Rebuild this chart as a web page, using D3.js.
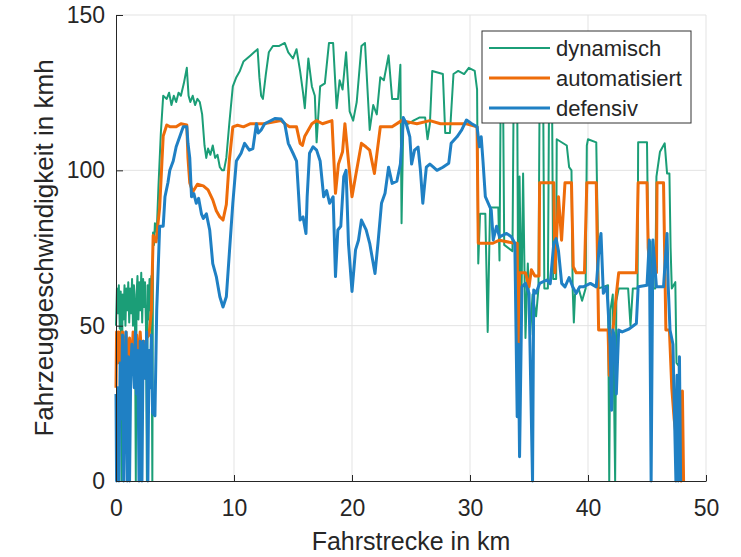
<!DOCTYPE html>
<html>
<head>
<meta charset="utf-8">
<script src="https://cdn.jsdelivr.net/npm/d3@7"></script>
<style>
  body { margin: 0; background: #fff; }
  text { font-family: "Liberation Sans", Arial, sans-serif; fill: #262626; }
</style>
</head>
<body>
<div id="chart"></div>
<script>
// chart size
var svgWidth = 741;
var svgHeight = 557;

var margin = { top: 15, right: 35, bottom: 76, left: 116 };
var w = svgWidth - margin.left - margin.right;
var h = svgHeight - margin.top - margin.bottom;

// tick labels
var xTicks = [0, 10, 20, 30, 40, 50];
var yTicks = [0, 50, 100, 150];

// series names + colors
var seriesNames = ["dynamisch", "automatisiert", "defensiv"];
var seriesColors = ["#1b9e77", "#ee6c0a", "#1f80c4"];
var seriesWidths = [2, 3, 3];

// [km, km/h]
var dynamisch = [[0,50],[0.08,62],[0.16,54],[0.24,63],[0.32,49],[0.4,61],[0.48,0],[0.55,60],[0.63,52],[0.72,63],[0.8,50],[0.88,62],[0.96,55],[1.04,64],[1.12,51],[1.2,62],[1.28,54],[1.36,65],[1.44,50],[1.52,63],[1.6,56],[1.68,0],[1.74,60],[1.82,66],[1.9,52],[1.98,64],[2.06,55],[2.14,67],[2.22,51],[2.3,65],[2.38,56],[2.46,64],[2.54,50],[2.62,0],[2.68,63],[2.76,52],[2.84,65],[2.92,55],[3.0,66],[3.08,0],[3.14,80],[3.22,76],[3.3,83],[3.45,80],[3.6,95],[3.8,112],[4.0,124],[4.3,123],[4.5,125],[4.7,121],[4.9,124],[5.1,122],[5.3,125],[5.5,124],[5.75,128],[6.0,133],[6.15,124],[6.3,122],[6.5,124],[6.7,121],[6.9,123],[7.1,122],[7.3,118],[7.5,108],[7.65,104],[7.8,107],[8.0,105],[8.2,108],[8.4,104],[8.6,105],[8.8,101],[9.0,100],[9.15,100],[9.35,104],[9.6,115],[9.9,127],[10.2,130],[10.5,132],[10.8,135],[11.1,136],[11.4,137],[11.7,138],[12.0,139],[12.15,130],[12.3,124],[12.45,123],[12.7,131],[12.95,138],[13.3,140],[13.8,140],[14.3,141],[14.6,138],[15.0,136],[15.3,139],[15.6,132],[15.85,125],[16.0,120],[16.3,136],[16.6,127],[16.85,124],[17.0,109],[17.3,127],[17.7,128],[18.05,141],[18.4,141],[18.7,120],[18.95,129],[19.2,126],[19.5,138],[19.8,119],[20.1,116],[20.4,122],[20.8,140],[21.1,141],[21.5,113],[21.8,121],[22.1,118],[22.4,130],[22.7,129],[23.1,137],[23.4,123],[23.9,123],[24.1,134],[24.2,83],[24.35,116],[24.8,115],[25.2,116],[25.7,117],[26.2,117],[26.4,110],[26.6,115],[26.8,132],[27.7,131],[27.9,112],[28.3,112],[28.6,131],[29.0,132],[29.5,131],[29.9,133],[30.4,132],[30.6,126],[30.7,70],[30.85,86],[31.3,86],[31.5,48],[31.7,88],[32.4,88],[32.5,71],[32.6,125],[32.8,125],[32.9,76],[33.6,74],[33.7,125],[34.0,125],[34.1,44],[34.2,98],[34.35,55],[34.5,99],[34.7,46],[34.9,70],[35.1,47],[35.3,60],[35.6,53],[35.8,62],[35.9,125],[36.2,125],[36.3,62],[36.6,62],[36.7,125],[36.95,125],[37.05,65],[37.3,65],[37.35,110],[38.2,108],[38.4,101],[38.6,100],[38.7,62],[38.8,51],[38.9,60],[39.2,62],[39.5,58],[39.8,62],[39.9,108],[40.0,110],[40.7,109],[40.8,87],[40.9,62],[41.7,63],[41.8,0],[41.9,55],[42.1,60],[42.3,0],[42.4,58],[42.6,62],[43.4,62],[43.6,50],[43.8,62],[44.2,62],[44.25,109],[45.0,109],[45.1,77],[45.3,77],[45.4,62],[45.7,62],[45.8,98],[46.1,106],[46.5,108.7],[46.7,99],[46.9,99],[47.0,75],[47.1,62],[47.4,64],[47.5,38],[47.7,37],[47.8,0]];

var automatisiert = [[0,30],[0.05,48],[0.15,38],[0.25,48],[0.35,40],[0.45,33],[0.55,48],[0.7,38],[0.85,48],[1.0,37],[1.15,46],[1.3,35],[1.45,48],[1.6,38],[1.75,47],[1.9,36],[2.05,48],[2.2,37],[2.35,45],[2.5,33],[2.6,46],[2.8,47],[3.0,55],[3.15,79],[3.4,77],[3.7,88],[4.0,111],[4.3,114.6],[4.6,114],[5.1,114],[5.5,115],[6.0,114.6],[6.1,104],[6.25,96],[6.5,93],[6.9,95.5],[7.4,95],[7.8,93.7],[8.2,90.5],[8.5,87],[8.8,85],[9.07,84],[9.35,89],[9.6,103],[9.9,114],[10.3,114.5],[10.8,114],[11.4,115],[11.9,115],[12.5,115],[13.2,115.5],[14.0,116],[14.3,115],[14.7,114],[15.3,114],[15.6,108.7],[15.8,108],[16.0,111],[16.3,113],[16.6,115],[17.0,116],[17.5,115],[18.3,116],[18.6,92.6],[18.85,102],[19.2,106],[19.4,115],[19.7,103],[20.0,91.5],[20.3,98],[20.8,108.7],[21.2,107.5],[21.5,106.5],[21.9,99],[22.4,114],[23.4,114],[24.2,116],[25.5,115],[26.6,116],[27.5,115],[28.6,115],[29.7,115],[30.6,114],[30.7,76.5],[31.9,76.5],[32.5,77.5],[33.8,76.5],[34.0,76.5],[34.1,35],[34.2,67],[34.7,67],[35.0,62.5],[35.2,68],[35.5,66],[35.85,66],[35.9,96],[36.8,96],[37.1,96],[37.2,67],[37.5,91.5],[37.76,77.5],[38.05,96],[38.6,96],[38.75,69],[39.0,67],[39.7,67],[39.9,96],[40.7,96],[40.9,48.6],[41.7,48.6],[41.8,34],[41.9,48],[42.1,48],[42.4,60],[42.6,67],[44.1,67],[44.25,96],[45.0,96],[45.1,75],[45.3,67],[45.8,67],[45.85,96],[46.4,96],[46.6,48.6],[46.9,48.6],[47.1,30],[47.3,20],[47.6,10],[47.9,0],[48.0,29],[48.1,0]];

var defensiv = [[0,28],[0.05,0],[0.15,30],[0.25,0],[0.35,38],[0.45,20],[0.55,47],[0.65,0],[0.75,35],[0.85,48],[0.95,0],[1.05,40],[1.15,0],[1.25,36],[1.35,44],[1.45,38],[1.55,30],[1.65,48],[1.75,28],[1.85,42],[1.95,0],[2.05,45],[2.2,0],[2.3,45],[2.4,38],[2.5,33],[2.6,48],[2.7,0],[2.8,42],[2.9,30],[3.0,47],[3.1,22],[3.3,21],[3.45,55],[3.6,71],[3.7,82],[4.0,82],[4.15,91.5],[4.4,96],[4.56,100],[4.85,103],[5.1,107.6],[5.4,110.8],[5.7,114],[6.0,114],[6.1,108.7],[6.25,104],[6.4,91.5],[6.6,92.5],[6.8,89.4],[7.0,91],[7.24,86],[7.4,84.5],[7.66,86],[7.94,80.8],[8.2,70],[8.5,65.8],[8.8,59.3],[9.07,56],[9.35,59.3],[9.6,73],[9.9,89.4],[10.2,103],[10.6,105.5],[10.9,108.7],[11.3,106.5],[11.6,107],[11.9,115],[12.06,112],[12.3,113],[12.6,115],[13.5,116.7],[14.0,116.5],[14.3,115],[14.6,108.7],[15.0,105.5],[15.3,103],[15.45,93.7],[15.6,84],[15.85,85],[16.1,79.7],[16.2,91.5],[16.4,105.5],[16.7,107.6],[17.0,106.5],[17.3,103],[17.6,91.5],[17.85,93.5],[18.1,89.4],[18.4,91.5],[18.6,65.8],[18.8,80.8],[19.05,82],[19.3,98],[19.5,100],[19.7,76.5],[20.0,61],[20.3,74.4],[20.55,77.5],[20.8,84],[21.2,80.8],[21.5,76.5],[21.95,66.8],[22.2,76.5],[22.5,89.4],[22.8,92.6],[23.1,101],[23.4,95.8],[23.8,96.5],[24.1,102],[24.35,117],[24.6,115],[24.9,110.8],[25.05,102],[25.3,106.5],[25.6,107.5],[25.8,100],[26.0,89.4],[26.3,101],[26.6,102],[26.9,101],[27.2,100],[27.7,101],[28.2,102.3],[28.4,108.7],[28.9,110.8],[29.3,113],[29.7,116.2],[30.15,115],[30.6,114],[30.8,107.6],[30.95,110.8],[31.1,103],[31.3,91.5],[31.55,89.4],[31.8,87.2],[31.97,77.6],[32.25,82],[32.5,78.6],[33.1,79.7],[33.5,78.6],[33.8,76.5],[34.0,20.7],[34.1,44],[34.2,7.8],[34.4,62.5],[34.7,63.6],[35.0,60.4],[35.3,0],[35.4,61.5],[35.6,60.5],[35.9,63.6],[36.5,64.7],[36.8,63.5],[37.1,76.5],[37.3,78],[37.5,74],[37.77,63.6],[38.05,62.5],[38.4,65.5],[38.7,62.5],[39.0,60.4],[39.3,62.5],[39.6,62.5],[40.2,63.6],[40.7,62.5],[40.97,76.5],[41.1,79.7],[41.3,60.4],[41.6,62.5],[41.87,44],[42.0,22.8],[42.1,48.6],[42.25,46.5],[42.4,28],[42.6,48.6],[42.9,48],[43.5,49],[44.1,50.7],[44.25,62.5],[45.0,63],[45.2,77.6],[45.35,0],[45.5,77.6],[45.8,62.5],[46.4,62.5],[46.7,79.7],[46.8,62.5],[46.95,48.6],[47.2,44],[47.45,0],[47.55,34],[47.65,0],[47.75,40],[47.85,0]];

var seriesData = [dynamisch, automatisiert, defensiv];

var svg = d3.select("#chart")
    .append("svg")
    .attr("width", svgWidth)
    .attr("height", svgHeight)
    .style("background", "#fff");

var chartGroup = svg.append("g")
    .attr("transform", `translate(${margin.left}, ${margin.top})`);

var xScale = d3.scaleLinear().domain([0, 50]).range([0, w]);
var yScale = d3.scaleLinear().domain([0, 150]).range([h, 0]);

// grid
chartGroup.append("g")
    .selectAll("line")
    .data(xTicks.slice(1))
    .enter()
    .append("line")
    .attr("x1", d => xScale(d))
    .attr("x2", d => xScale(d))
    .attr("y1", 0)
    .attr("y2", h)
    .attr("stroke", "#e3e3e3")
    .attr("stroke-width", 1);

chartGroup.append("g")
    .selectAll("line")
    .data(yTicks.slice(1))
    .enter()
    .append("line")
    .attr("x1", 0)
    .attr("x2", w)
    .attr("y1", d => yScale(d))
    .attr("y2", d => yScale(d))
    .attr("stroke", "#e3e3e3")
    .attr("stroke-width", 1);

// lines
var line = d3.line()
    .x(d => xScale(d[0]))
    .y(d => yScale(d[1]));

seriesData.forEach(function (data, i) {
    chartGroup.append("path")
        .datum(data)
        .attr("fill", "none")
        .attr("stroke", seriesColors[i])
        .attr("stroke-width", seriesWidths[i])
        .attr("stroke-linejoin", "round")
        .attr("d", line);
});

// axes
var bottomAxis = d3.axisBottom(xScale)
    .tickValues(xTicks)
    .tickSizeInner(-6)
    .tickSizeOuter(0)
    .tickPadding(19);
var leftAxis = d3.axisLeft(yScale)
    .tickValues(yTicks)
    .tickSizeInner(-7)
    .tickSizeOuter(0)
    .tickPadding(11);

var xAxisG = chartGroup.append("g")
    .attr("transform", `translate(0, ${h})`)
    .call(bottomAxis);
var yAxisG = chartGroup.append("g")
    .call(leftAxis);

[xAxisG, yAxisG].forEach(function (g) {
    g.select(".domain").attr("stroke", "#262626");
    g.selectAll(".tick line").attr("stroke", "#262626");
    g.selectAll("text")
        .attr("font-size", "23px")
        .attr("font-family", "Liberation Sans, Arial, sans-serif")
        .attr("fill", "#262626");
});

// axis titles
chartGroup.append("text")
    .attr("x", w / 2)
    .attr("y", h + 69)
    .attr("text-anchor", "middle")
    .attr("font-size", "25px")
    .text("Fahrstrecke in km");

chartGroup.append("text")
    .attr("transform", "rotate(-90)")
    .attr("x", -h / 2)
    .attr("y", -63)
    .attr("text-anchor", "middle")
    .attr("font-size", "26px")
    .text("Fahrzeuggeschwindigkeit in kmh");

// legend
var legend = svg.append("g")
    .attr("transform", "translate(482, 31)");

legend.append("rect")
    .attr("width", 209)
    .attr("height", 92)
    .attr("fill", "#fff")
    .attr("stroke", "#333")
    .attr("stroke-width", 1);

seriesNames.forEach(function (name, i) {
    var yy = 17 + i * 30;
    legend.append("line")
        .attr("x1", 7)
        .attr("x2", 68)
        .attr("y1", yy)
        .attr("y2", yy)
        .attr("stroke", seriesColors[i])
        .attr("stroke-width", seriesWidths[i]);
    legend.append("text")
        .attr("x", 74)
        .attr("y", yy)
        .attr("dy", "0.35em")
        .attr("font-size", "22px")
        .text(name);
});
</script>
</body>
</html>
